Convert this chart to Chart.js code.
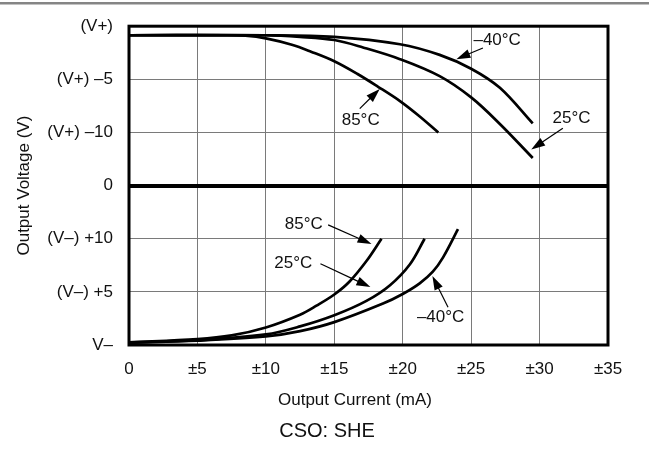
<!DOCTYPE html>
<html>
<head>
<meta charset="utf-8">
<script src="https://cdn.jsdelivr.net/npm/chart.js@4.4.1/dist/chart.umd.min.js"></script>
<style>
  html, body { margin: 0; padding: 0; background: #fff; }
  canvas { display: block; }
</style>
</head>
<body>
<canvas id="salida" width="649" height="462"></canvas>
<script>
"use strict"

// tick labels; the y axis is drawn on positions 0..6 (V- at the bottom, V+ at the top)
const etiquetasY = ["V–", "(V–) +5", "(V–) +10", "0", "(V+) –10", "(V+) –5", "(V+)"];
const etiquetasX = ["0", "±5", "±10", "±15", "±20", "±25", "±30", "±35"];

// positive swing, [current mA, axis position]
const alto85 = [[0, 5.83], [7, 5.83], [8.5, 5.82], [10, 5.77], [11.9, 5.65], [13.3, 5.52], [15, 5.34], [16.7, 5.1], [18.2, 4.86], [19.8, 4.59], [21.2, 4.31], [22.6, 4.0]];
const alto25 = [[0, 5.83], [10, 5.83], [12.5, 5.8], [15, 5.74], [17.1, 5.6], [19.8, 5.38], [22.7, 5.06], [25, 4.66], [27.1, 4.16], [29.5, 3.52]];
const alto40 = [[0, 5.83], [10, 5.83], [15, 5.8], [19.8, 5.66], [22.7, 5.46], [25, 5.2], [27.1, 4.84], [29.5, 4.17]];

// negative swing
const bajo85 = [[0, 0.05], [5, 0.11], [7.5, 0.18], [10, 0.33], [12.5, 0.57], [13.7, 0.74], [15, 0.95], [16.1, 1.19], [17.35, 1.58], [18.45, 2.0]];
const bajo25 = [[0, 0.05], [5, 0.09], [10, 0.2], [12.5, 0.35], [15, 0.56], [17.35, 0.83], [19.05, 1.12], [20.53, 1.52], [21.6, 2.0]];
const bajo40 = [[0, 0.04], [5, 0.08], [10, 0.16], [12.5, 0.26], [15, 0.43], [18.56, 0.78], [20, 0.96], [21.24, 1.16], [22.2, 1.38], [22.95, 1.65], [24.04, 2.18]];

// temperature callouts: text centre, arrow tail, arrow tip (data units)
const notas = [
    { texto: "–40°C", t: [26.9, 5.73], de: [25.86, 5.59], a: [23.92, 5.38] },
    { texto: "85°C", t: [16.93, 4.23], de: [16.86, 4.45], a: [18.32, 4.82] },
    { texto: "25°C", t: [32.34, 4.27], de: [31.7, 4.08], a: [29.39, 3.68] },
    { texto: "85°C", t: [12.77, 2.27], de: [14.55, 2.26], a: [17.72, 1.9] },
    { texto: "25°C", t: [12.0, 1.53], de: [13.99, 1.53], a: [17.64, 1.09] },
    { texto: "–40°C", t: [22.77, 0.52], de: [23.31, 0.71], a: [22.17, 1.3] }
];

const fuente = "'Liberation Sans', Arial, sans-serif";

function puntos(lista) {
    return lista.map(p => ({ x: p[0], y: p[1] }));
}

function curva(lista) {
    return {
        data: puntos(lista),
        borderColor: "#000",
        borderWidth: 2.7,
        pointRadius: 0,
        fill: false,
        tension: 0.35
    };
}

function flecha(ctx, x1, y1, x2, y2) {
    let ang = Math.atan2(y2 - y1, x2 - x1);
    let largo = 14, ancho = 4.5;
    ctx.beginPath();
    ctx.moveTo(x1, y1);
    ctx.lineTo(x2 - Math.cos(ang) * largo * 0.8, y2 - Math.sin(ang) * largo * 0.8);
    ctx.stroke();
    ctx.beginPath();
    ctx.moveTo(x2, y2);
    ctx.lineTo(x2 - Math.cos(ang) * largo - Math.sin(ang) * ancho, y2 - Math.sin(ang) * largo + Math.cos(ang) * ancho);
    ctx.lineTo(x2 - Math.cos(ang) * largo + Math.sin(ang) * ancho, y2 - Math.sin(ang) * largo - Math.cos(ang) * ancho);
    ctx.closePath();
    ctx.fill();
}

const extras = {
    id: "extras",
    beforeDraw(chart) {
        let ctx = chart.ctx;
        ctx.save();
        ctx.fillStyle = "#fff";
        ctx.fillRect(0, 0, chart.width, chart.height);
        ctx.fillStyle = "#858585";
        ctx.fillRect(0, 2, chart.width, 2.5);
        ctx.restore();
    },
    afterDraw(chart) {
        let ctx = chart.ctx;
        let area = chart.chartArea;
        let sx = chart.scales.x, sy = chart.scales.y;
        ctx.save();

        // frame
        ctx.strokeStyle = "#000";
        ctx.lineWidth = 3;
        ctx.strokeRect(area.left, area.top, area.right - area.left, area.bottom - area.top);

        // callouts
        ctx.lineWidth = 1.2;
        ctx.fillStyle = "#000";
        notas.forEach(n => {
            flecha(ctx, sx.getPixelForValue(n.de[0]), sy.getPixelForValue(n.de[1]),
                sx.getPixelForValue(n.a[0]), sy.getPixelForValue(n.a[1]));
        });
        ctx.fillStyle = "#111";
        ctx.font = "17px " + fuente;
        ctx.textAlign = "center";
        ctx.textBaseline = "middle";
        notas.forEach(n => {
            ctx.fillText(n.texto, sx.getPixelForValue(n.t[0]), sy.getPixelForValue(n.t[1]));
        });

        // x title and caption under the plot
        ctx.fillText("Output Current (mA)", 355, 400);
        ctx.font = "20px " + fuente;
        ctx.fillText("CSO: SHE", 327, 431);
        ctx.restore();
    }
};

new Chart(document.getElementById("salida"), {
    type: "line",
    data: {
        datasets: [curva(alto85), curva(alto25), curva(alto40), curva(bajo85), curva(bajo25), curva(bajo40)]
    },
    options: {
        responsive: false,
        animation: false,
        layout: { padding: { top: 21, right: 41, left: 0, bottom: 0 } },
        plugins: {
            legend: { display: false },
            tooltip: { enabled: false }
        },
        scales: {
            x: {
                type: "linear",
                min: 0,
                max: 35,
                afterFit: s => { s.height = 117; },
                border: { display: false },
                grid: { color: "#7a7a7a", lineWidth: 1, drawTicks: false },
                ticks: {
                    stepSize: 5,
                    padding: 14,
                    color: "#111",
                    font: { family: fuente, size: 17 },
                    maxRotation: 0,
                    callback: v => etiquetasX[v / 5]
                }
            },
            y: {
                type: "linear",
                min: 0,
                max: 6,
                afterFit: s => { s.width = 129; },
                border: { display: false },
                grid: {
                    drawTicks: false,
                    color: c => c.tick && c.tick.value === 3 ? "#000" : "#7a7a7a",
                    lineWidth: c => c.tick && c.tick.value === 3 ? 4 : 1
                },
                ticks: {
                    stepSize: 1,
                    padding: 16,
                    color: "#111",
                    font: { family: fuente, size: 17 },
                    callback: v => etiquetasY[v]
                },
                title: {
                    display: true,
                    text: "Output Voltage (V)",
                    color: "#111",
                    font: { family: fuente, size: 17 },
                    padding: { top: 14, bottom: 0 }
                }
            }
        }
    },
    plugins: [extras]
});
</script>
</body>
</html>
